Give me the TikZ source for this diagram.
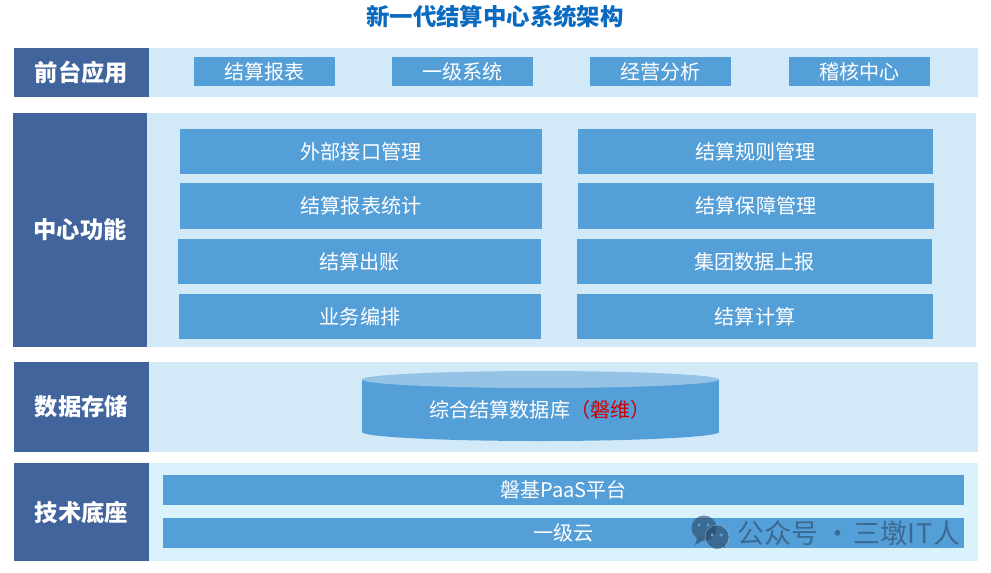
\documentclass[tikz,border=0pt]{standalone}
\usepackage{fontspec}
\setmainfont{Noto Sans CJK SC}
\definecolor{archhead}{RGB}{65,100,157}
\definecolor{archband}{RGB}{210,234,248}
\definecolor{archsky}{RGB}{217,242,252}
\definecolor{archbox}{RGB}{85,159,216}
\definecolor{archtop}{RGB}{148,195,230}
\definecolor{archtitle}{RGB}{10,106,191}
\definecolor{archred}{RGB}{205,0,0}
\definecolor{archmark}{RGB}{40,70,100}
\usetikzlibrary{positioning,shapes.geometric}

\begin{document}
\begin{tikzpicture}[x=1pt,y=-1pt,
  band/.style={fill=archband,inner sep=0pt,outer sep=0pt},
  head/.style={fill=archhead,text=white,inner sep=0pt,outer sep=0pt,minimum width=135pt,font=\fontsize{23.3}{26}\selectfont\bfseries},
  bx/.style={fill=archbox,text=white,inner sep=0pt,outer sep=0pt,font=\fontsize{20.1}{24}\selectfont},
  smallbx/.style={bx,minimum width=141pt,minimum height=29pt},
  chat/.style={circle,fill=archmark,fill opacity=0.6,inner sep=0pt},
  eye/.style={circle,fill=archbox,inner sep=0pt,minimum size=3.5pt},
  wmark/.style={inner sep=0pt,outer sep=0pt,text=archmark,text opacity=0.6,font=\fontsize{27}{30}\selectfont}]
  \useasboundingbox (0,0) rectangle (991,573);
  \node[text=archtitle,inner sep=0pt,font=\fontsize{23.4}{27}\selectfont\bfseries] (title) at (495,17) {新一代结算中心系统架构};
  % front row
  \node[band,minimum width=829pt,minimum height=49pt] (frontband) at (563.5,72.5) {};
  \node[head,minimum height=49pt] (front) at (81.5,72.5) {前台应用};
  \node[smallbx] (report) at (264.5,71.5) {结算报表};
  \node[smallbx] (level) at (462.5,71.5) {一级系统};
  \node[smallbx] (biz) at (660.5,71.5) {经营分析};
  \node[smallbx] (audit) at (859.5,71.5) {稽核中心};
  % center row
  \node[band,minimum width=829pt,minimum height=234pt] (coreband) at (561.5,230) {};
  \node[head,minimum width=134pt,minimum height=234pt] (core) at (80,230) {中心功能};
  \node[bx,minimum width=362pt,minimum height=45pt] (iface) at (361,151.5) {外部接口管理};
  \node[bx,minimum width=355pt,minimum height=45pt] (rule) at (755.5,151.5) {结算规则管理};
  \node[bx,minimum width=362pt,minimum height=46pt] (stat) at (361,206) {结算报表统计};
  \node[bx,minimum width=356pt,minimum height=46pt] (guard) at (756,206) {结算保障管理};
  \node[bx,minimum width=363pt,minimum height=45pt] (bill) at (359.5,261.5) {结算出账};
  \node[bx,minimum width=355pt,minimum height=45pt] (group) at (754.5,261.5) {集团数据上报};
  \node[bx,minimum width=362pt,minimum height=45pt] (flow) at (360,316.5) {业务编排};
  \node[bx,minimum width=356pt,minimum height=45pt] (calc) at (755,316.5) {结算计算};
  % data row
  \node[band,minimum width=829pt,minimum height=90pt] (databand) at (563.5,407) {};
  \node[head,minimum height=90pt] (data) at (81.5,407) {数据存储};
  \node[ellipse,fill=archbox,inner sep=0pt,minimum width=357pt,minimum height=18pt] (dbbase) at (540.5,432) {};
  \node[bx,minimum width=357pt,minimum height=53pt] (db) at (540.5,405.5) {};
  \node[ellipse,fill=archtop,inner sep=0pt,minimum width=357pt,minimum height=17pt] (dbtop) at (540.5,379.5) {};
  \node[text=white,inner sep=0pt,font=\fontsize{20.1}{24}\selectfont] (dbname) at (540,410) {综合结算数据库\textcolor{archred}{（磐维）}};
  % tech row
  \node[band,fill=archsky,minimum width=829pt,minimum height=98pt] (techband) at (563.5,512) {};
  \node[head,minimum height=98pt] (tech) at (81.5,512) {技术底座};
  \node[bx,minimum width=801pt,minimum height=30pt] (paas) at (563.5,490) {磐基PaaS平台};
  \node[bx,minimum width=801pt,minimum height=30pt] (cloud) at (563.5,533) {一级云};
  % watermark
  \node[chat,minimum size=25pt] (chatl) at (704,528) {};
  \fill[archmark,fill opacity=0.6] (697,538) -- (695,545) -- (704,540) -- cycle;
  \node[chat,draw=archsky,draw opacity=0.5,minimum size=24pt] (chatr) at (717,537) {};
  \fill[archmark,fill opacity=0.6] (722,546) -- (725,548) -- (724,544) -- cycle;
  \node[eye] (eyea) at (699,525) {};
  \node[eye] (eyeb) at (708,525) {};
  \node[eye] (eyec) at (712,535) {};
  \node[eye] (eyed) at (721,535) {};
  \node[wmark,anchor=west] (account) at (737,533) {公众号 ·\kern-4pt{} 三墩I\kern2pt{}T人};
\end{tikzpicture}
\end{document}
